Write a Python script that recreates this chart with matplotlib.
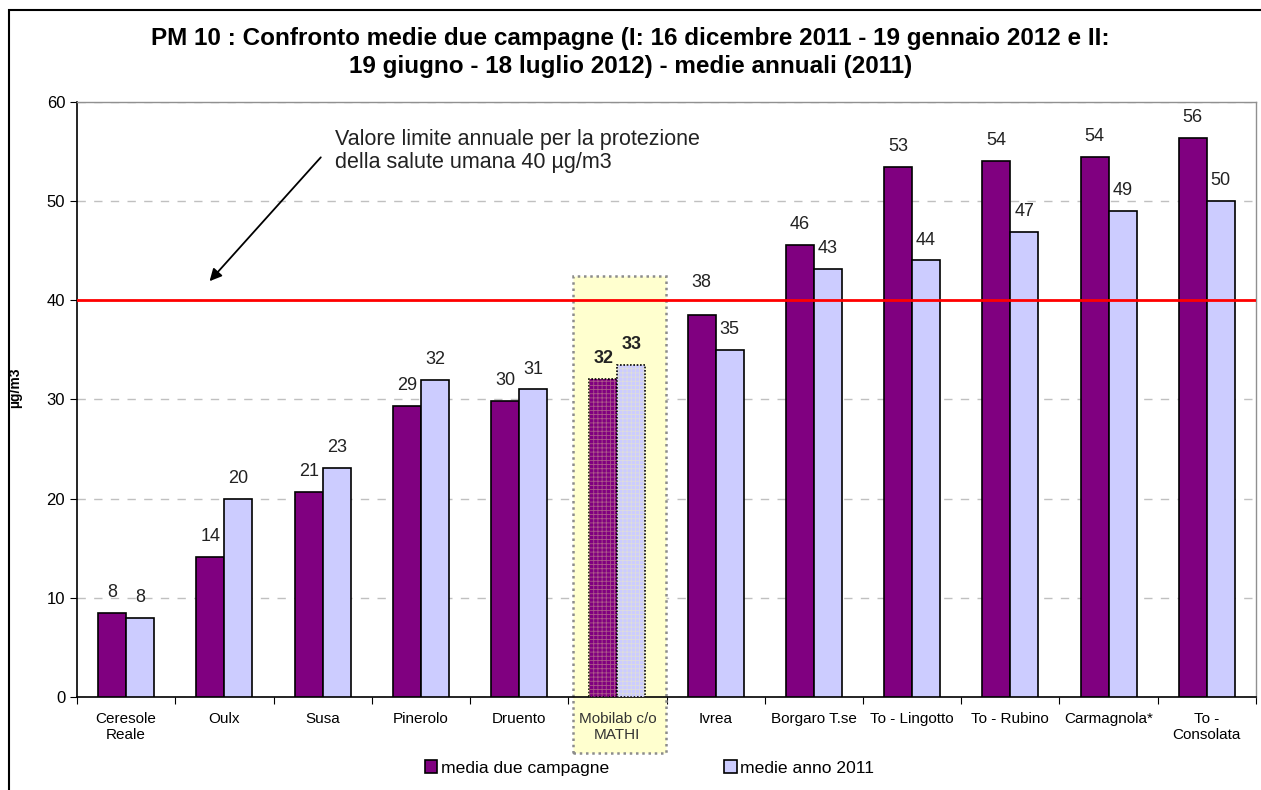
import matplotlib
matplotlib.use("Agg")
import matplotlib.pyplot as plt
from matplotlib.patches import Rectangle
import numpy as np

plt.rcParams['font.family'] = ['Liberation Sans', 'DejaVu Sans']

# --- dati ---
stazioni = ["Ceresole\nReale", "Oulx", "Susa", "Pinerolo", "Druento",
            "Mobilab c/o\nMATHI", "Ivrea", "Borgaro T.se", "To - Lingotto",
            "To - Rubino", "Carmagnola*", "To -\nConsolata"]
media_campagne = [8.5, 14.1, 20.7, 29.3, 29.8, 32.1, 38.5, 45.6, 53.4, 54.0, 54.4, 56.3]
media_2011 = [8.0, 20.0, 23.1, 32.0, 31.0, 33.5, 35.0, 43.1, 44.0, 46.9, 49.0, 50.0]
etich_campagne = ["8", "14", "21", "29", "30", "32", "38", "46", "53", "54", "54", "56"]
etich_2011 = ["8", "20", "23", "32", "31", "33", "35", "43", "44", "47", "49", "50"]
limite = 40
idx_mobilab = 5

viola = "#800080"
lilla = "#CCCCFF"

fig = plt.figure(figsize=(12.61, 7.90), dpi=100)
ax = fig.add_axes([0.0611, 0.1177, 0.9349, 0.7536])

x = np.arange(len(stazioni))
w = 0.285

# riquadro evidenziato Mobilab
box = Rectangle((idx_mobilab - 0.45, -5.6), 0.945, 48.0, transform=ax.transData,
                facecolor="#ffffcf", edgecolor="#8c8c8c", linestyle=(0, (1, 1.5)),
                linewidth=1.8, clip_on=False, zorder=1.5)
ax.add_patch(box)

b1 = ax.bar(x - w/2, media_campagne, w, color=viola, edgecolor="black", linewidth=1.2,
            zorder=3, label="media due campagne")
b2 = ax.bar(x + w/2, media_2011, w, color=lilla, edgecolor="black", linewidth=1.2,
            zorder=3, label="medie anno 2011")

# trama sulle barre Mobilab
plt.rcParams['hatch.linewidth'] = 0.6
for b in (b1[idx_mobilab], b2[idx_mobilab]):
    b.set_linestyle((0, (1, 1)))
    ax.bar(b.get_x() + b.get_width()/2, b.get_height(), b.get_width(), facecolor="none",
           edgecolor=(1, 1, 0.6, 0.35), hatch="++++", linewidth=0, zorder=3.5)


def pos_etichetta(v):
    y = v + 1.2
    # sposta sopra la linea limite se ci finirebbe sopra
    if limite - 1.6 < y < limite + 0.8:
        y = limite + 0.9
    return y


for i in range(len(stazioni)):
    fw = "bold" if i == idx_mobilab else "normal"
    ax.text(x[i] - w/2, pos_etichetta(media_campagne[i]), etich_campagne[i], ha="center",
            va="bottom", fontsize=13, fontweight=fw, color="#222222", zorder=5)
    ax.text(x[i] + w/2, pos_etichetta(media_2011[i]), etich_2011[i], ha="center",
            va="bottom", fontsize=13, fontweight=fw, color="#222222", zorder=5)

# limite annuale
ax.axhline(limite, color="#ff0000", linewidth=2, zorder=4)
ax.annotate("", xy=(0.83, 41.7), xytext=(2.0, 54.6),
            arrowprops=dict(arrowstyle="-|>", color="black", lw=1.3, mutation_scale=18),
            zorder=5)
ax.text(2.13, 57.2, "Valore limite annuale per la protezione\ndella salute umana 40 µg/m3",
        ha="left", va="top", fontsize=15.5, color="#222222", linespacing=1.1, zorder=5)

ax.set_xlim(-0.5, len(stazioni) - 0.5)
ax.set_ylim(0, 60)
ax.set_yticks(range(0, 61, 10))
ax.yaxis.grid(True, linestyle=(0, (6, 6)), color="#c0c0c0", linewidth=1)
ax.set_axisbelow(True)
ax.tick_params(axis="y", labelsize=12, length=5, direction="out")

ax.set_xticks(np.arange(-0.5, len(stazioni), 1.0))
ax.set_xticklabels([])
ax.tick_params(axis="x", length=5, direction="out")
for i, s in enumerate(stazioni):
    ax.text(x[i], -1.5, s, ha="center", va="top", fontsize=11, linespacing=1.2,
            color="#333333" if i == idx_mobilab else "black", zorder=5)

for sp in ("top", "right"):
    ax.spines[sp].set_color("#909090")
    ax.spines[sp].set_linewidth(1)
for sp in ("left", "bottom"):
    ax.spines[sp].set_color("black")
    ax.spines[sp].set_linewidth(1.2)

ax.set_ylabel("µg/m3", fontsize=10, fontweight="bold")
ax.yaxis.set_label_coords(-0.047, 0.52)

fig.text(0.5, 0.9335, "PM 10 : Confronto medie due campagne (I: 16 dicembre 2011 - 19 gennaio 2012 e II:\n"
         "19 giugno - 18 luglio 2012) - medie annuali (2011)",
         ha="center", va="center", fontsize=17.5, fontweight="bold", linespacing=1.25)

leg = fig.legend(handles=[b1, b2], loc="center", bbox_to_anchor=(0.515, 0.028), ncol=2,
                 frameon=False, fontsize=12.6, handlelength=0.7, handleheight=0.7,
                 handletextpad=0.2, columnspacing=6.6)

# cornice esterna
fig.add_artist(Rectangle((0.007, -0.01), 1.5, 0.997, transform=fig.transFigure,
                         fill=False, edgecolor="black", linewidth=1.5))

fig.savefig("out.png", dpi=100)
